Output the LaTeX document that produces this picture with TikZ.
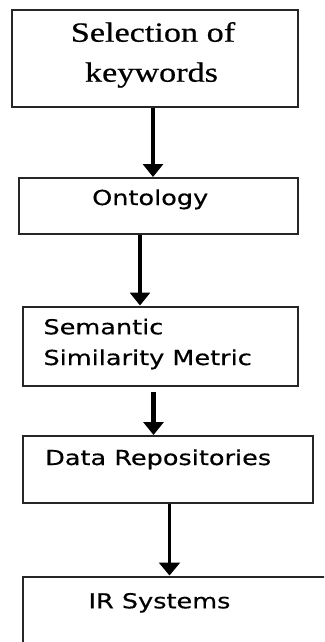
\documentclass[tikz,border=0pt]{standalone}
\usepackage{fontspec}
\usetikzlibrary{arrows.meta}
\newfontfamily\serf[FakeStretch=1.23,FakeBold=0.6]{Liberation Serif}
\newfontfamily\sanf[FakeStretch=1.24,FakeBold=0.5]{DejaVu Sans}
\begin{document}
\begin{tikzpicture}[x=1pt,y=-1pt,
  boxst/.style={draw=black!85,line width=2pt,rectangle,inner sep=0pt,anchor=north west},
  serlbl/.style={inner sep=0pt,anchor=base,font=\serf\fontsize{27.8}{30}\selectfont},
  sanlbl/.style={inner sep=0pt,anchor=base west,font=\sanf\fontsize{20.6}{24}\selectfont},
  thickarr/.style={line width=4.5pt,-{Triangle[width=20pt,length=13pt]}},
  thinarr/.style={line width=2.6pt,-{Triangle[width=21pt,length=13pt]}}]
\useasboundingbox (0,0) rectangle (324,642);
\begin{scope}
\clip (0,0) rectangle (324,642);
\node[boxst,minimum width=286.5pt,minimum height=96pt] (b1) at (10.5,9.5) {};
\node[boxst,minimum width=278.7pt,minimum height=56pt] (b2) at (18.3,177) {};
\node[boxst,minimum width=275pt,minimum height=79pt] (b3) at (22,305.5) {};
\node[boxst,minimum width=289.7pt,minimum height=67pt] (b4) at (22,435) {};
\node[boxst,minimum width=330pt,minimum height=100pt] (b5) at (22,575.5) {};
\end{scope}
\node[serlbl] (t1a) at (153,41.7) {Selection of};
\node[serlbl] (t1b) at (151.5,81.7) {keywords};
\node[sanlbl] (t2) at (92,205) {Ontology};
\node[sanlbl] (t3a) at (43.3,334.3) {Semantic};
\node[sanlbl] (t3b) at (43.3,365) {Similarity Metric};
\node[sanlbl] (t4) at (45,465) {Data Repositories};
\node[sanlbl] (t5) at (88.3,608.3) {IR Systems};
\coordinate (a1) at (153,0);
\coordinate (a2) at (140,0);
\coordinate (a3) at (153.5,391.7);
\coordinate (a4) at (169.5,0);
\draw[thickarr] (b1.south -| a1) -- (b2.north -| a1);
\draw[thickarr] (b2.south -| a2) -- (b3.north -| a2);
\draw[thickarr] (a3) -- (b4.north -| a3);
\draw[thinarr] (b4.south -| a4) -- (b5.north -| a4);
\end{tikzpicture}
\end{document}
